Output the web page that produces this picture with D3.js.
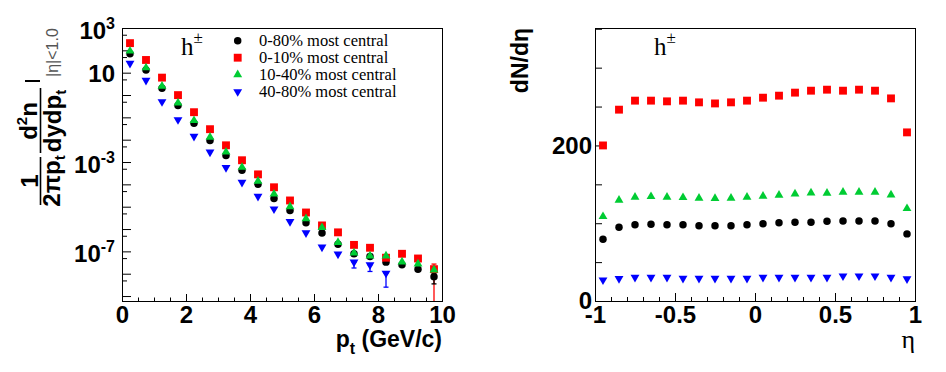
<!DOCTYPE html>
<html>
<head>
<meta charset="utf-8">
<script src="https://cdn.jsdelivr.net/npm/d3@7"></script>
<style>
  body { margin: 0; background: #fff; }
  svg { display: block; }
</style>
</head>
<body>
<div id="chart"></div>
<script>
// pt bin centres (GeV/c) and invariant yields for each centrality class
const ptBins = [0.25, 0.75, 1.25, 1.75, 2.25, 2.75, 3.25, 3.75, 4.25, 4.75,
                5.25, 5.75, 6.25, 6.75, 7.25, 7.75, 8.25, 8.75, 9.25, 9.75];
const yield0080 = [71, 13.1, 2.0, 0.34, 0.055, 9.1e-3, 1.95e-3, 4.3e-4, 1.0e-4, 2.3e-5,
                   6.8e-6, 1.9e-6, 6.6e-7, 2.1e-7, 7.8e-8, 5.9e-8, 3.3e-8, 2.5e-8, 1.6e-8, 7.4e-9];
const yield0010 = [210, 37, 6.0, 0.99, 0.17, 2.95e-2, 5.6e-3, 1.2e-3, 2.8e-4, 7.4e-5,
                   1.9e-5, 5.5e-6, 1.45e-6, 7.1e-7, 1.95e-7, 1.45e-7, 5.2e-8, 7.8e-8, 4.8e-8, 1.6e-8];
const yield1040 = [93, 16.6, 2.5, 0.44, 0.072, 1.29e-2, 2.8e-3, 5.8e-4, 1.4e-4, 3.7e-5,
                   1.0e-5, 2.9e-6, 1.17e-6, 2.5e-7, 8.5e-8, 6.3e-8, 6.3e-8, 3.4e-8, 2.75e-8, 1.48e-8];
const yield4080 = [26, 4.5, 0.50, 0.078, 0.0141, 2.8e-3, 5.6e-4, 1.23e-4, 2.9e-5, 7.9e-6,
                   2.15e-6, 6.8e-7, 1.55e-7, 7.6e-8, 3.3e-8, 2.5e-8, 1.05e-8];

// visible error bars (the rest hide under the markers)
const yieldErrors = [
  { cls: "40-80", pt: 7.25, lo: 1.8e-8, hi: 3.3e-8 },
  { cls: "40-80", pt: 7.75, lo: 1.26e-8, hi: 2.5e-8 },
  { cls: "40-80", pt: 8.25, lo: 2.5e-9, hi: 1.05e-8 },
  { cls: "0-10", pt: 9.75, lo: 1e-12, hi: 2.7e-8 },
  { cls: "0-80", pt: 9.75, lo: 3.5e-9, hi: 1.0e-8 }
];

// eta bin centres and dN/deta
const etaBins = [-0.95, -0.85, -0.75, -0.65, -0.55, -0.45, -0.35, -0.25, -0.15, -0.05,
                 0.05, 0.15, 0.25, 0.35, 0.45, 0.55, 0.65, 0.75, 0.85, 0.95];
const dndeta0080 = [79.5, 94.9, 97.9, 98.8, 97.9, 97.9, 96.6, 96.6, 96.6, 97.9,
                    99.2, 100.5, 101.3, 101.3, 102.6, 103, 103, 103, 99.2, 86.3];
const dndeta0010 = [200, 246, 257.6, 257.6, 256.7, 257.6, 255.4, 254, 255.4, 257.6,
                    261.4, 264, 267.9, 270.4, 271.7, 270.4, 271.7, 270.4, 260.5, 216.8];
const dndeta1040 = [108.6, 129.6, 133.5, 134.3, 133.5, 133, 132.2, 131.8, 132.2, 133.5,
                    134.8, 136, 137.8, 139, 138.6, 139.9, 139.9, 139.9, 136.5, 118.9];
const dndeta4080 = [27, 28.7, 30.5, 30.5, 30.5, 29.2, 29.2, 29.2, 29.2, 29.2,
                    30.5, 30.5, 30.5, 30.5, 30.5, 32.2, 32.2, 32.2, 30.5, 28.4];

// axis tick labels
const yLogLabelExps = [3, 1, -3, -7];
const ptTickLabels = [0, 2, 4, 6, 8, 10];
const etaTickLabels = [-1, -0.5, 0, 0.5, 1];
const dndetaTickLabels = [0, 200];

const sans = "'Liberation Sans', Arial, Helvetica, sans-serif";
const serif = "'Liberation Serif', 'Times New Roman', serif";

const classes = [
  { cls: "0-80", label: "0-80% most central", color: "#000000", shape: "circle", pt: yield0080, eta: dndeta0080 },
  { cls: "0-10", label: "0-10% most central", color: "#ff0000", shape: "square", pt: yield0010, eta: dndeta0010 },
  { cls: "10-40", label: "10-40% most central", color: "#00cc33", shape: "up", pt: yield1040, eta: dndeta1040 },
  { cls: "40-80", label: "40-80% most central", color: "#0000ff", shape: "down", pt: yield4080, eta: dndeta4080 }
];

const svg = d3.select("#chart").append("svg")
  .attr("width", 946).attr("height", 372)
  .attr("font-family", sans);

function marker(g, shape, color, x, y) {
  const types = { circle: [d3.symbolCircle, 44], square: [d3.symbolSquare, 62], up: [d3.symbolTriangle, 34], down: [d3.symbolTriangle, 34] };
  const [type, size] = types[shape];
  g.append("path")
    .attr("d", d3.symbol().type(type).size(size)())
    .attr("transform", `translate(${x},${y})` + (shape === "down" ? " rotate(180)" : ""))
    .attr("fill", color);
}

function styleAxis(g, size) {
  g.select(".domain").remove();
  g.attr("font-family", sans).attr("font-size", size).attr("font-weight", "bold");
  g.selectAll(".tick line").attr("stroke", "#000");
}

// ---------------- left panel: pt spectra ----------------
const L = { x0: 122, x1: 442, y0: 28, y1: 301 };
const xPt = d3.scaleLinear().domain([0, 10]).range([L.x0, L.x1]);
const yPt = d3.scaleLog().domain([6e-10, 1000]).range([L.y1, L.y0]);

svg.append("clipPath").attr("id", "clipL")
  .append("rect").attr("x", L.x0).attr("y", L.y0).attr("width", L.x1 - L.x0).attr("height", L.y1 - L.y0);

// x axis: minor every 0.5, major every 2
const ptMinor = d3.range(0.5, 10, 0.5).filter(v => v % 2 !== 0);
svg.append("g").attr("transform", `translate(0,${L.y1})`)
  .call(d3.axisBottom(xPt).tickValues(ptMinor).tickSize(-3.5).tickFormat(""))
  .call(g => styleAxis(g, 24));
svg.append("g").attr("transform", `translate(0,${L.y1})`)
  .call(d3.axisBottom(xPt).tickValues(ptTickLabels).tickSize(-7).tickPadding(5).tickFormat(d => String(d)))
  .call(g => styleAxis(g, 24));

// y axis: decades plus 5x ticks
const decades = d3.range(-9, 4).map(e => Math.pow(10, e));
const fives = d3.range(-9, 3).map(e => 5 * Math.pow(10, e));
svg.append("g").attr("transform", `translate(${L.x0},0)`)
  .call(d3.axisLeft(yPt).tickValues(fives).tickSize(-5).tickFormat(""))
  .call(g => styleAxis(g, 24));
const yAxisL = svg.append("g").attr("transform", `translate(${L.x0},0)`)
  .call(d3.axisLeft(yPt).tickValues(decades).tickSize(-9).tickPadding(7).tickFormat(""))
  .call(g => styleAxis(g, 24));
yAxisL.selectAll(".tick text").each(function(d) {
  const e = Math.round(Math.log10(d));
  if (!yLogLabelExps.includes(e)) return;
  const t = d3.select(this);
  if (e === 1) {
    t.attr("dy", 8.5).text("10");
  } else {
    t.attr("dy", 10.5);
    t.append("tspan").text("10");
    t.append("tspan").attr("font-size", 16).attr("dy", -10).text(String(e));
  }
});

// markers
const gL = svg.append("g").attr("clip-path", "url(#clipL)");
yieldErrors.forEach(e => {
  const c = classes.find(k => k.cls === e.cls);
  const x = xPt(e.pt);
  gL.append("line").attr("x1", x).attr("x2", x).attr("y1", yPt(e.lo)).attr("y2", yPt(e.hi))
    .attr("stroke", c.color).attr("stroke-width", 1.3);
  [e.lo, e.hi].forEach(v => gL.append("line").attr("x1", x - 2.5).attr("x2", x + 2.5)
    .attr("y1", yPt(v)).attr("y2", yPt(v)).attr("stroke", c.color).attr("stroke-width", 1.3));
});
classes.forEach(c => {
  c.pt.forEach((v, i) => marker(gL, c.shape, c.color, xPt(ptBins[i]), yPt(v)));
});

svg.append("rect").attr("x", L.x0 + 0.5).attr("y", L.y0 + 0.5)
  .attr("width", L.x1 - L.x0).attr("height", L.y1 - L.y0)
  .attr("fill", "none").attr("stroke", "#000");

// legend
classes.forEach((c, i) => {
  const y = 40.7 + i * 17;
  marker(svg, c.shape, c.color, 237.7, y);
  svg.append("text").attr("x", 259).attr("y", y + 5.5)
    .attr("font-family", serif).attr("font-size", 16.5).text(c.label);
});

// h+- labels
function hLabel(x) {
  const t = svg.append("text").attr("x", x).attr("y", 55).attr("font-family", serif).attr("font-size", 25);
  t.append("tspan").text("h");
  t.append("tspan").attr("font-size", 17).attr("dy", -12).text("\u00b1");
}
hLabel(181);

// x title
const xt = svg.append("text").attr("x", L.x1).attr("y", 347)
  .attr("text-anchor", "end").attr("font-size", 23).attr("font-weight", "bold");
xt.append("tspan").text("p");
xt.append("tspan").attr("font-size", 16).attr("dy", 7).text("t");
xt.append("tspan").attr("dy", -7).text(" (GeV/c)");

// y title, rotated: local x = -screenY, local y = screenX
const yt = svg.append("g").attr("transform", "rotate(-90)")
  .attr("font-weight", "bold").attr("fill", "#000");
yt.append("text").attr("x", -181).attr("y", 38).attr("text-anchor", "middle").attr("font-size", 24).text("1");
yt.append("line").attr("x1", -205).attr("x2", -157).attr("y1", 40.5).attr("y2", 40.5).attr("stroke", "#000").attr("stroke-width", 1.6);
const den1 = yt.append("text").attr("x", -181).attr("y", 59.5).attr("text-anchor", "middle").attr("font-size", 24);
den1.append("tspan").text("2\u03c0p");
den1.append("tspan").attr("font-size", 15).attr("dy", 5).text("t");
const num2 = yt.append("text").attr("x", -121).attr("y", 37).attr("text-anchor", "middle").attr("font-size", 24);
num2.append("tspan").text("d");
num2.append("tspan").attr("font-size", 15).attr("dy", -10).text("2");
num2.append("tspan").attr("dy", 10).text("n");
yt.append("line").attr("x1", -153).attr("x2", -88).attr("y1", 40.5).attr("y2", 40.5).attr("stroke", "#000").attr("stroke-width", 1.6);
const den2 = yt.append("text").attr("x", -121).attr("y", 61).attr("text-anchor", "middle").attr("font-size", 24);
den2.append("tspan").text("dydp");
den2.append("tspan").attr("font-size", 15).attr("dy", 5).text("t");
yt.append("line").attr("x1", -81).attr("x2", -81).attr("y1", 25).attr("y2", 40).attr("stroke", "#000").attr("stroke-width", 2);
yt.append("text").attr("x", -77).attr("y", 58).attr("font-size", 16).attr("font-weight", "normal")
  .attr("fill", "#555").text("|\u03b7|<1.0");

// ---------------- right panel: dN/deta ----------------
const R = { x0: 595, x1: 915, y0: 28, y1: 301 };
const xEta = d3.scaleLinear().domain([-1, 1]).range([R.x0, R.x1]);
const yEta = d3.scaleLinear().domain([0, 351]).range([R.y1, R.y0]);

const etaMinor = d3.range(-9, 10).map(v => v / 10).filter(v => Math.abs(v * 2 - Math.round(v * 2)) > 1e-6);
svg.append("g").attr("transform", `translate(0,${R.y1})`)
  .call(d3.axisBottom(xEta).tickValues(etaMinor).tickSize(-4).tickFormat(""))
  .call(g => styleAxis(g, 24));
svg.append("g").attr("transform", `translate(0,${R.y1})`)
  .call(d3.axisBottom(xEta).tickValues(etaTickLabels).tickSize(-8).tickPadding(5).tickFormat(d => String(d)))
  .call(g => styleAxis(g, 24));
svg.append("g").attr("transform", `translate(${R.x0},0)`)
  .call(d3.axisLeft(yEta).tickValues(d3.range(0, 351, 50)).tickSize(-7).tickPadding(3)
    .tickFormat(d => dndetaTickLabels.includes(d) ? String(d) : ""))
  .call(g => styleAxis(g, 24));

const gR = svg.append("g");
classes.forEach(c => {
  c.eta.forEach((v, i) => marker(gR, c.shape, c.color, xEta(etaBins[i]), yEta(v)));
});

svg.append("rect").attr("x", R.x0 + 0.5).attr("y", R.y0 + 0.5)
  .attr("width", R.x1 - R.x0).attr("height", R.y1 - R.y0)
  .attr("fill", "none").attr("stroke", "#000");

hLabel(654);

svg.append("text").attr("x", R.x1).attr("y", 348).attr("text-anchor", "end")
  .attr("font-family", serif).attr("font-size", 26).text("\u03b7");

svg.append("text").attr("transform", `translate(528,${R.y0}) rotate(-90)`)
  .attr("text-anchor", "end").attr("font-size", 23).attr("font-weight", "bold").text("dN/d\u03b7");
</script>
</body>
</html>
